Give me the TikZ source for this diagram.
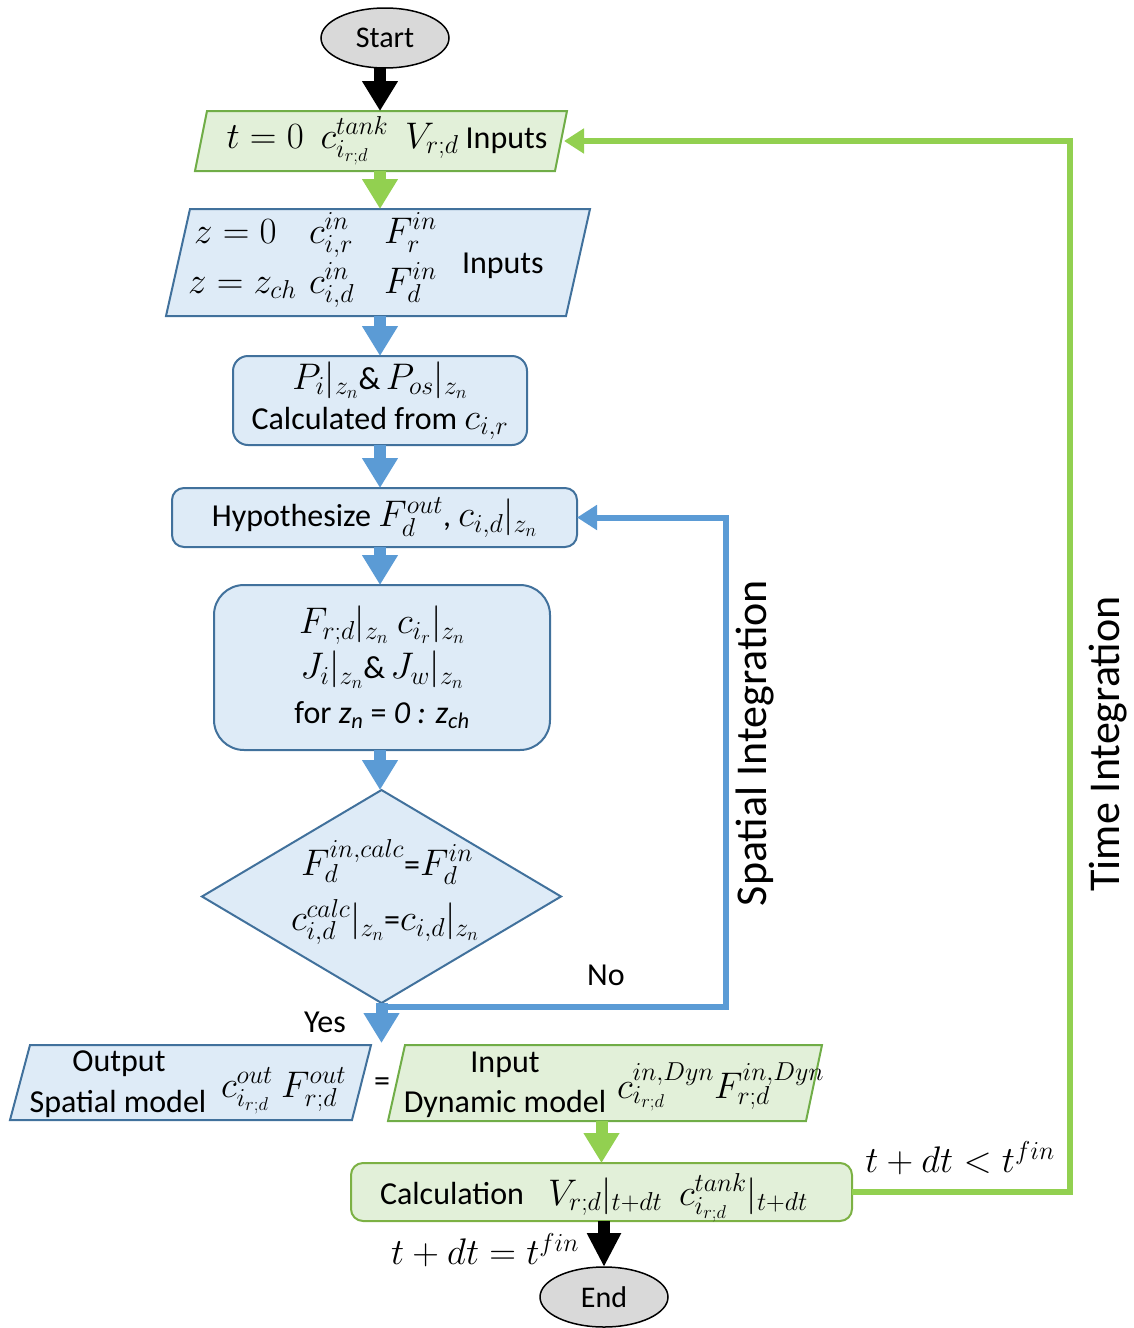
\RequirePackage{fix-cm}
\documentclass[tikz,border=0pt]{standalone}
\usepackage{fontspec}
\setmainfont{Carlito}
\usetikzlibrary{arrows.meta,shapes.geometric,calc}
\definecolor{bfill}{HTML}{DEEBF7}
\definecolor{bdraw}{HTML}{41719C}
\definecolor{barr}{HTML}{5B9BD5}
\definecolor{gfill}{HTML}{E2F0D9}
\definecolor{gdraw}{HTML}{70AD47}
\definecolor{garr}{HTML}{92D050}
\definecolor{sfill}{HTML}{D9D9D9}
\newcommand\mth[1]{{\fontsize{37}{40}\selectfont$#1$}}
\begin{document}
\begin{tikzpicture}[x=1pt,y=-1pt,
  every node/.style={font=\fontsize{32}{40}\selectfont, inner sep=0pt, outer sep=0pt},
  term/.style={ellipse, draw=black, line width=1.5pt, fill=sfill, minimum width=128pt, minimum height=60pt, font=\fontsize{30}{36}\selectfont},
  bpg/.style={draw=bdraw, fill=bfill, line width=2pt, line join=miter},
  gpg/.style={draw=gdraw, fill=gfill, line width=2pt, line join=miter},
  bbox/.style={rectangle, draw=bdraw, fill=bfill, line width=2pt, align=center},
  gbox/.style={rectangle, draw=garr!85!black, fill=gfill, line width=2pt, rounded corners=12pt},
  fat/.style={line width=12pt, -{Triangle[length=30pt,width=34pt]}},
  loopl/.style={line width=6pt, line join=miter, -{Triangle[length=20pt,width=24pt]}},
  lbl/.style={font=\fontsize{32}{38}\selectfont},
  big/.style={font=\fontsize{44}{50}\selectfont, rotate=90}
]
\useasboundingbox (0,0) rectangle (1133,1328);
\coordinate (col) at (380,0);

% Start
\node[term] (start) at (385,38) {Start};

% t = 0 parallelogram
\path[gpg] (207,111) -- (567,111) -- (555,171) -- (195,171) -- cycle;
\node[minimum width=366pt, minimum height=60pt] (t0) at (381,141) {};
\node (t0t) at (387,141) {\mth{t=0\ \ c^{tank}_{i_{r;d}}\ \ V_{r;d}} Inputs};

% Inputs parallelogram
\path[bpg] (190,209) -- (590,209) -- (566,316) -- (166,316) -- cycle;
\node[minimum width=400pt, minimum height=107pt] (inp) at (378,262.5) {};
\node[anchor=base west] (i1) at (194,243) {\mth{z=0}};
\node[anchor=base west] (i2) at (309,243) {\mth{c^{in}_{i,r}}};
\node[anchor=base west] (i3) at (384,243) {\mth{F^{in}_{r}}};
\node[anchor=base west] (i4) at (188,293) {\mth{z=z_{ch}}};
\node[anchor=base west] (i5) at (309,293) {\mth{c^{in}_{i,d}}};
\node[anchor=base west] (i6) at (384,293) {\mth{F^{in}_{d}}};
\node[anchor=base west] (i7) at (462,273) {Inputs};

% P box
\node[bbox, rounded corners=15pt, minimum width=294pt, minimum height=89pt] (pbox) at (380,400.5)
  {\mth{P_i|_{z_n}}\&\,\mth{P_{os}|_{z_n}}\\Calculated from \mth{c_{i,r}}};

% Hypothesize
\node[bbox, rounded corners=12pt, minimum width=405pt, minimum height=59pt] (hyp) at (374.5,517.5)
  {Hypothesize \mth{F^{out}_d}, \mth{c_{i,d}|_{z_n}}};

% Big box
\node[bbox, rounded corners=30pt, minimum width=336pt, minimum height=165pt, font=\fontsize{32}{45}\selectfont] (calcb) at (382,667.5)
  {\mth{F_{r;d}|_{z_n}\ c_{i_r}|_{z_n}}\\\mth{J_i|_{z_n}}\&\,\mth{J_w|_{z_n}}\\for \textit{z}\textsubscript{\textit{n}} = \textit{0 : z}\textsubscript{\textit{ch}}};

% Diamond
\node[diamond, draw=bdraw, fill=bfill, line width=2pt, aspect=1.685, minimum width=359pt, minimum height=213pt] (dia) at (381.5,896.5) {};
\node (d1) at (387,862) {\mth{F^{in,calc}_d}=\mth{F^{in}_d}};
\node (d2) at (385,922) {\mth{c^{calc}_{i,d}|_{z_n}}=\mth{c_{i,d}|_{z_n}}};

% Output parallelogram
\path[bpg] (30,1045) -- (371,1045) -- (352,1120) -- (10,1120) -- cycle;
\node[minimum width=341pt, minimum height=75pt] (outp) at (190.5,1082.5) {};
\node[anchor=base] (o1) at (119,1071) {Output};
\node[anchor=base] (o2) at (118,1112) {Spatial model};
\node[anchor=base west] (o3) at (221,1097) {\mth{c^{out}_{i_{r;d}}\ F^{out}_{r;d}}};

\node (eq) at (382,1085) {=};

% Input dynamic parallelogram
\path[gpg] (405,1045) -- (822,1045) -- (806,1121) -- (388,1121) -- cycle;
\node[minimum width=417pt, minimum height=76pt] (dyn) at (605,1083) {};
\node[anchor=base] (y1) at (505,1072) {Input};
\node[anchor=base] (y2) at (505,1112) {Dynamic model};
\node[anchor=base west] (y3) at (617,1098) {\mth{c^{in,Dyn}_{i_{r;d}}F^{in,Dyn}_{r;d}}};

% Calculation
\node[gbox, minimum width=501pt, minimum height=58pt] (calc) at (601.5,1192) {};
\node[anchor=base] (c1) at (452,1204) {Calculation};
\node[anchor=base west] (c2) at (548,1205) {\mth{V_{r;d}|_{t+dt}\ \ c^{tank}_{i_{r;d}}|_{t+dt}}};

% End
\node[term] (end) at (604,1297) {End};

% Arrows
\draw[fat, draw=black] (col |- start.south) -- (col |- t0.north);
\draw[fat, draw=garr] (col |- t0.south) -- (col |- inp.north);
\draw[fat, draw=barr] (col |- inp.south) -- (col |- pbox.north);
\draw[fat, draw=barr] (col |- pbox.south) -- (col |- hyp.north);
\draw[fat, draw=barr] (col |- hyp.south) -- (col |- calcb.north);
\draw[fat, draw=barr] (col |- calcb.south) -- (col |- dia.north);
\coordinate (yesend) at ($(dia.south)+(0,40)$);
\draw[fat, draw=barr] (dia.south) -- (yesend);
\draw[fat, draw=garr] (calc.north |- dyn.south) -- (calc.north);
\draw[fat, draw=black, -{Triangle[length=34pt,width=32pt]}] (end.north |- calc.south) -- (end.north);

% Loops
\coordinate (nostart) at ($(dia.south)+(0,4)$);
\draw[loopl, draw=barr] (nostart) -- ++(344,0) |- (hyp.east);
\draw[loopl, draw=garr] (calc.east) -- ++(218,0) |- (t0.east);

% Labels
\node[lbl] (yes) at (325,1022) {Yes};
\node[lbl] (no) at (606,975) {No};
\node[big] (spat) at (755,743) {Spatial Integration};
\node[big] (time) at (1108,744) {Time Integration};
\node[lbl] (tlt) at (960,1158) {\mth{t+dt<t^{fin}}};
\node[lbl] (teq) at (485,1250) {\mth{t+dt=t^{fin}}};
\end{tikzpicture}
\end{document}
